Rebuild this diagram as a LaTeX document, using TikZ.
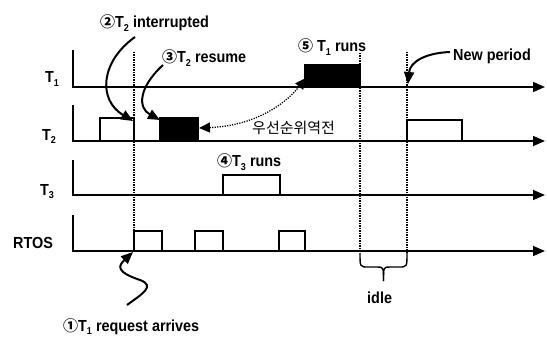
\documentclass[tikz,border=0pt]{standalone}
\usepackage{fontspec}
\setmainfont{Liberation Sans}[FakeStretch=0.9]
\newfontfamily\cjk{Noto Sans CJK KR}
\usetikzlibrary{arrows.meta}
\newcommand\sbs[1]{\raisebox{-0.45ex}{\fontsize{10}{10}\selectfont #1}}
\newcommand\cn[1]{{\cjk\fontsize{15}{15}\selectfont #1}}
\begin{document}
\begin{tikzpicture}[x=1pt,y=-1pt,
  lbl/.style={anchor=base west,inner sep=0pt,font=\fontsize{16}{16}\selectfont\bfseries},
  axis/.style={line width=1.6pt,-{Triangle[length=12pt,width=10pt]}},
  sig/.style={line width=1.4pt},
  blk/.style={fill=black,draw=black,line width=1.4pt},
  dots/.style={line width=1.3pt,dash pattern=on 1.2pt off 1.3pt},
  callout/.style={line width=2pt,-{Triangle[length=12pt,width=10pt]}},
  dbl/.style={line width=1.3pt,dash pattern=on 1.2pt off 1.3pt,{Triangle[length=11pt,width=10pt]}-{Triangle[length=11pt,width=10pt]}}]
\useasboundingbox (0,0) rectangle (547,337);

% axes
\coordinate (a1) at (73,50);  \coordinate (a1c) at (73,87);  \coordinate (a1e) at (545,87);
\coordinate (a2) at (73,105); \coordinate (a2c) at (73,141); \coordinate (a2e) at (545,141);
\coordinate (a3) at (73,160); \coordinate (a3c) at (73,195); \coordinate (a3e) at (545,195);
\coordinate (a4) at (73,215); \coordinate (a4c) at (73,251); \coordinate (a4e) at (545,251);
\draw[axis] (a1) -- (a1c) -- (a1e);
\draw[axis] (a2) -- (a2c) -- (a2e);
\draw[axis] (a3) -- (a3c) -- (a3e);
\draw[axis] (a4) -- (a4c) -- (a4e);

% axis labels
\node[lbl] (lt1) at (45,83) {T\sbs{1}};
\node[lbl] (lt2) at (42,140) {T\sbs{2}};
\node[lbl] (lt3) at (40,195) {T\sbs{3}};
\node[lbl] (lrt) at (13,248) {RTOS};

% signals
\draw[sig] (100,141) rectangle (134,118);
\draw[blk] (160,141) rectangle (198,118);
\draw[sig] (407,141) rectangle (462,120);
\draw[blk] (305,87) rectangle (360,65);
\draw[sig] (223,195) rectangle (280,175);
\draw[sig] (134,251) rectangle (162,231);
\draw[sig] (195,251) rectangle (223,231);
\draw[sig] (279,251) rectangle (305,231);

% dotted verticals
\coordinate (d1t) at (134,52);  \coordinate (d1b) at (134,251);
\coordinate (d2t) at (360,53);  \coordinate (d2b) at (360,253);
\coordinate (d3t) at (407,52);  \coordinate (d3b) at (407,253);
\draw[dots] (d1t) -- (d1b);
\draw[dots] (d2t) -- (d2b);
\draw[dots] (d3t) -- (d3b);

% brace
\coordinate (bt) at (383.5,281);
\draw[line width=1.4pt] (d2b) .. controls (360,267) .. (368,267) -- (377,267) .. controls (383.5,267) .. (bt);
\draw[line width=1.4pt] (d3b) .. controls (407,267) .. (399,267) -- (390,267) .. controls (383.5,267) .. (bt);
\node[lbl] (idle) at (367,303) {idle};

% labels
\node[lbl] (l2) at (100,28) {\cn{②}T\sbs{2} interrupted};
\node[lbl] (l3) at (162,63) {\cn{③}T\sbs{2} resume};
\node[lbl] (l5) at (298,52) {\cn{⑤} T\sbs{1} runs};
\node[lbl] (lnp) at (453,61) {New period};
\node[lbl] (l4) at (217,167) {\cn{④}T\sbs{3} runs};
\node[lbl] (l1) at (63,331) {\cn{①}T\sbs{1} request arrives};
\node[anchor=base west,inner sep=0pt] (kr) at (252,134) {\cn{우선순위역전}};

% callout arrows
\coordinate (c2s) at (135,37);  \coordinate (c2e) at (133,121);
\coordinate (c3s) at (163,65);  \coordinate (c3e) at (160,120);
\coordinate (cns) at (450,52);  \coordinate (cne) at (408,84);
\coordinate (c1s) at (127,305); \coordinate (c1e) at (133,252);
\draw[callout] (c2s) .. controls (100,62) and (98,100) .. (c2e);
\draw[callout] (c3s) .. controls (138,88) and (138,108) .. (c3e);
\draw[callout] (cns) .. controls (425,53) and (410,62) .. (cne);
\draw[callout] (c1s) .. controls (142,294) and (156,286) .. (140,280) .. controls (116,272) and (118,266) .. (c1e);

% priority inversion dotted arrow
\coordinate (pa) at (199,128); \coordinate (pb) at (306,78);
\draw[dbl] (pa) .. controls (250,126) and (282,108) .. (pb);
\end{tikzpicture}
\end{document}
